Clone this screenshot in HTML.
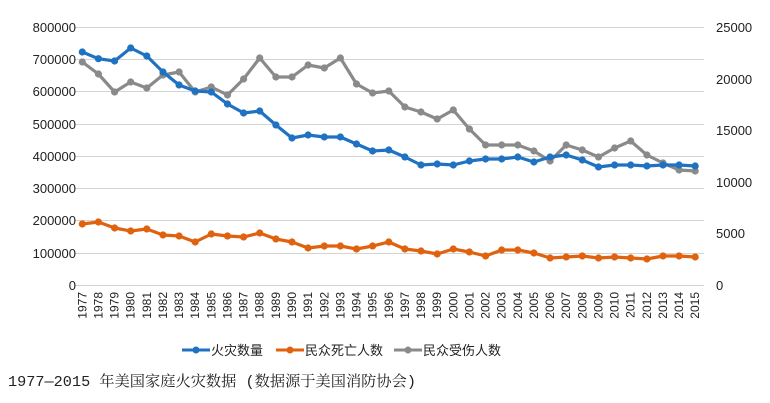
<!DOCTYPE html>
<html><head><meta charset="utf-8"><style>
body{margin:0;background:#fff;width:770px;height:403px;overflow:hidden}
svg{display:block}
text{font-family:"Liberation Sans","Noto Sans CJK SC",sans-serif;fill:#222}
</style></head><body>
<svg width="770" height="403" viewBox="0 0 770 403">
<defs>
<marker id="mb" markerWidth="8" markerHeight="8" refX="4" refY="4" markerUnits="userSpaceOnUse"><circle cx="4" cy="4" r="3.6" fill="#1f72c1"/></marker>
<marker id="mo" markerWidth="8" markerHeight="8" refX="4" refY="4" markerUnits="userSpaceOnUse"><circle cx="4" cy="4" r="3.6" fill="#e0620e"/></marker>
<marker id="mg" markerWidth="8" markerHeight="8" refX="4" refY="4" markerUnits="userSpaceOnUse"><circle cx="4" cy="4" r="3.6" fill="#8a8a8a"/></marker>
</defs>
<g stroke="#d4d4d4" stroke-width="1">
<line x1="74" x2="704" y1="27.5" y2="27.5"/><line x1="74" x2="704" y1="59.5" y2="59.5"/><line x1="74" x2="704" y1="91.5" y2="91.5"/><line x1="74" x2="704" y1="124.5" y2="124.5"/><line x1="74" x2="704" y1="156.5" y2="156.5"/><line x1="74" x2="704" y1="188.5" y2="188.5"/><line x1="74" x2="704" y1="220.5" y2="220.5"/><line x1="74" x2="704" y1="253.5" y2="253.5"/><line x1="74" x2="704" y1="285.5" y2="285.5"/>
</g>
<g font-size="13" text-anchor="end">
<text x="76" y="32">800000</text><text x="76" y="64">700000</text><text x="76" y="96">600000</text><text x="76" y="129">500000</text><text x="76" y="161">400000</text><text x="76" y="193">300000</text><text x="76" y="225">200000</text><text x="76" y="258">100000</text><text x="76" y="290">0</text>
</g>
<g font-size="13">
<text x="716" y="32">25000</text><text x="716" y="84">20000</text><text x="716" y="135">15000</text><text x="716" y="187">10000</text><text x="716" y="238">5000</text><text x="716" y="290">0</text>
</g>
<g font-size="12" text-anchor="end">
<text transform="translate(86.3,292) rotate(-90)">1977</text><text transform="translate(102.4,292) rotate(-90)">1978</text><text transform="translate(118.6,292) rotate(-90)">1979</text><text transform="translate(134.7,292) rotate(-90)">1980</text><text transform="translate(150.8,292) rotate(-90)">1981</text><text transform="translate(167,292) rotate(-90)">1982</text><text transform="translate(183.1,292) rotate(-90)">1983</text><text transform="translate(199.2,292) rotate(-90)">1984</text><text transform="translate(215.3,292) rotate(-90)">1985</text><text transform="translate(231.5,292) rotate(-90)">1986</text><text transform="translate(247.6,292) rotate(-90)">1987</text><text transform="translate(263.7,292) rotate(-90)">1988</text><text transform="translate(279.9,292) rotate(-90)">1989</text><text transform="translate(296,292) rotate(-90)">1990</text><text transform="translate(312.1,292) rotate(-90)">1991</text><text transform="translate(328.3,292) rotate(-90)">1992</text><text transform="translate(344.4,292) rotate(-90)">1993</text><text transform="translate(360.5,292) rotate(-90)">1994</text><text transform="translate(376.6,292) rotate(-90)">1995</text><text transform="translate(392.8,292) rotate(-90)">1996</text><text transform="translate(408.9,292) rotate(-90)">1997</text><text transform="translate(425,292) rotate(-90)">1998</text><text transform="translate(441.2,292) rotate(-90)">1999</text><text transform="translate(457.3,292) rotate(-90)">2000</text><text transform="translate(473.4,292) rotate(-90)">2001</text><text transform="translate(489.6,292) rotate(-90)">2002</text><text transform="translate(505.7,292) rotate(-90)">2003</text><text transform="translate(521.8,292) rotate(-90)">2004</text><text transform="translate(537.9,292) rotate(-90)">2005</text><text transform="translate(554.1,292) rotate(-90)">2006</text><text transform="translate(570.2,292) rotate(-90)">2007</text><text transform="translate(586.3,292) rotate(-90)">2008</text><text transform="translate(602.5,292) rotate(-90)">2009</text><text transform="translate(618.6,292) rotate(-90)">2010</text><text transform="translate(634.7,292) rotate(-90)">2011</text><text transform="translate(650.9,292) rotate(-90)">2012</text><text transform="translate(667,292) rotate(-90)">2013</text><text transform="translate(683.1,292) rotate(-90)">2014</text><text transform="translate(699.2,292) rotate(-90)">2015</text>
</g>
<g fill="none" stroke-width="3.2" stroke-linejoin="round">
<polyline stroke="#8a8a8a" marker-start="url(#mg)" marker-mid="url(#mg)" marker-end="url(#mg)" points="82.3,62 98.4,74 114.6,92 130.7,82 146.8,88 163,75 179.1,72 195.2,92 211.3,87 227.5,95 243.6,79 259.7,58 275.9,77 292,77 308.1,65 324.3,68 340.4,58 356.5,84 372.6,93 388.8,91 404.9,107 421,112 437.2,119 453.3,110 469.4,129 485.6,145 501.7,145 517.8,145 533.9,151 550.1,161 566.2,145 582.3,150 598.5,157 614.6,148 630.7,141 646.9,155 663,163 679.1,170 695.2,171"/>
<polyline stroke="#e0620e" marker-start="url(#mo)" marker-mid="url(#mo)" marker-end="url(#mo)" points="82.3,224 98.4,222 114.6,228 130.7,231 146.8,229 163,235 179.1,236 195.2,242 211.3,234 227.5,236 243.6,237 259.7,233 275.9,239 292,242 308.1,248 324.3,246 340.4,246 356.5,249 372.6,246 388.8,242 404.9,249 421,251 437.2,254 453.3,249 469.4,252 485.6,256 501.7,250 517.8,250 533.9,253 550.1,258 566.2,257 582.3,256 598.5,258 614.6,257 630.7,258 646.9,259 663,256 679.1,256 695.2,257"/>
<polyline stroke="#1f72c1" marker-start="url(#mb)" marker-mid="url(#mb)" marker-end="url(#mb)" points="82.3,52 98.4,58.7 114.6,61 130.7,48 146.8,56 163,72 179.1,85 195.2,91 211.3,92 227.5,104 243.6,113 259.7,111 275.9,125 292,138 308.1,135 324.3,137 340.4,137 356.5,144 372.6,151 388.8,150 404.9,157 421,165 437.2,164 453.3,165 469.4,161 485.6,159 501.7,159 517.8,157 533.9,162 550.1,157 566.2,155 582.3,160 598.5,167 614.6,165 630.7,165 646.9,166 663,165 679.1,165 695.2,166"/>
</g>
<g font-size="13">
<line x1="182" x2="210" y1="350" y2="350" stroke="#1f72c1" stroke-width="3"/><circle cx="196" cy="350" r="3.5" fill="#1f72c1"/>
<text x="211" y="355">火灾数量</text>
<line x1="276" x2="304" y1="350" y2="350" stroke="#e0620e" stroke-width="3"/><circle cx="290" cy="350" r="3.5" fill="#e0620e"/>
<text x="305" y="355">民众死亡人数</text>
<line x1="394" x2="422" y1="350" y2="350" stroke="#8a8a8a" stroke-width="3"/><circle cx="408" cy="350" r="3.5" fill="#8a8a8a"/>
<text x="423" y="355">民众受伤人数</text>
</g>
<text x="8" y="386" font-size="15" textLength="408" lengthAdjust="spacingAndGlyphs" style="font-family:'Liberation Mono','Noto Serif CJK SC',serif">1977—2015 年美国家庭火灾数据 (数据源于美国消防协会)</text>
</svg>
</body></html>
